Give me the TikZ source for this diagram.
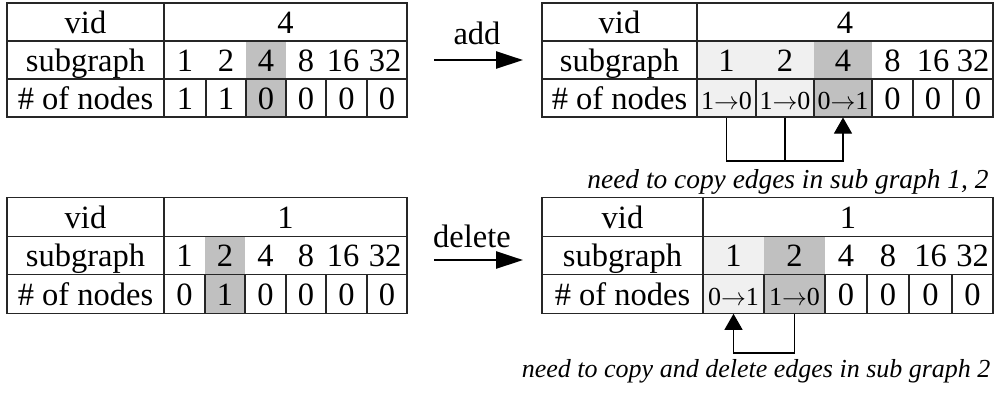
\documentclass[tikz,border=0pt]{standalone}
\usepackage{fontspec}
\setmainfont{Liberation Serif}
\usetikzlibrary{arrows.meta}

\definecolor{lightcell}{HTML}{F0F0F0}
\definecolor{darkcell}{HTML}{C0C0C0}
\newcommand{\bigtext}{\fontsize{32.5}{37}\selectfont}
\newcommand{\smalltext}{\fontsize{26}{30}\selectfont}
\newcommand{\chg}[2]{{\smalltext #1\(\rightarrow\)#2}}

\begin{document}
\begin{tikzpicture}[
    x=1pt, y=-1pt,
    >={Triangle[length=16pt, width=18pt]},
    font=\bigtext,
    line width=1.1pt,
    txt/.style={inner sep=0pt, text height=22pt, text depth=0pt},
    cell/.style={txt, draw=black!85, minimum height=38pt},
    shade/.style={txt, minimum height=38pt},
    move/.style={line width=2.7pt, -{Triangle[length=27pt, width=17pt]}},
    note/.style={font=\fontsize{27.4}{32}\selectfont\itshape, anchor=base east, inner sep=0pt}
]
    \useasboundingbox (0,0) rectangle (998,392);

    % before add (vid 4)
    \foreach \x/\w/\v/\f [count=\i] in {185/42/1/none, 226/40/2/none, 266/40/4/darkcell,
                                      306/40/8/none, 343/40/16/none, 385/40/32/none}
        \node[shade, fill=\f, minimum width=\w pt] (a-s\i) at (\x,60) {\v};
    \node[cell, minimum width=157pt] (a-vidl) at (85.5,22) {vid};
    \node[cell, minimum width=243pt] (a-vid) at (285.5,22) {4};
    \node[cell, minimum width=157pt] (a-subl) at (85.5,60) {subgraph};
    \node[cell, minimum width=243pt] (a-sub) at (285.5,60) {};
    \node[cell, minimum width=157pt] (a-numl) at (85.5,98) {\# of nodes};
    \foreach \x/\w/\v/\f [count=\i] in {185/42/1/white, 226/40/1/white, 266/40/0/darkcell,
                                      306/40/0/white, 346.5/41/0/white, 387/40/0/white}
        \node[cell, fill=\f, minimum width=\w pt] (a-n\i) at (\x,98) {\v};

    % add
    \coordinate (add-from) at (434,60);
    \coordinate (add-to) at (523,60);
    \draw[move] (add-from) -- (add-to);
    \node[txt] (add) at (477,33) {add};

    % after add
    \foreach \x/\w/\v/\f [count=\i] in {726.5/59/1/lightcell, 785/58/2/lightcell, 843/58/4/darkcell,
                                      892.5/41/8/none, 933/40/16/none, 973/40/32/none}
        \node[shade, fill=\f, minimum width=\w pt] (b-s\i) at (\x,60) {\v};
    \node[cell, minimum width=155pt] (b-vidl) at (619.5,22) {vid};
    \node[cell, minimum width=296pt] (b-vid) at (845,22) {4};
    \node[cell, minimum width=155pt] (b-subl) at (619.5,60) {subgraph};
    \node[cell, minimum width=296pt] (b-sub) at (845,60) {};
    \node[cell, minimum width=155pt] (b-numl) at (619.5,98) {\# of nodes};
    \foreach \x/\w/\v/\f [count=\i] in {726.5/59/\chg10/lightcell, 785/58/\chg10/lightcell,
                                      843/58/\chg01/darkcell, 892.5/41/0/white,
                                      933/40/0/white, 973/40/0/white}
        \node[cell, fill=\f, minimum width=\w pt] (b-n\i) at (\x,98) {\v};

    % copy edges
    \coordinate (b-join) at (785,161);
    \draw[->] (b-n1.south) |- (b-join) -| (b-n3.south);
    \draw (b-n2.south) -- (b-join);
    \node[note] (b-note) at (989,188) {need to copy edges in sub graph 1, 2};

    % before delete (vid 1)
    \foreach \x/\w/\v/\f [count=\i] in {184.5/41/1/none, 225/40/2/darkcell, 265.5/41/4/none,
                                      306/40/8/none, 343/40/16/none, 385/40/32/none}
        \node[shade, fill=\f, minimum width=\w pt, minimum height=38.5pt] (c-s\i) at (\x,255.5) {\v};
    \node[cell, minimum width=157pt, minimum height=38.5pt] (c-vidl) at (85.5,217) {vid};
    \node[cell, minimum width=243pt, minimum height=38.5pt] (c-vid) at (285.5,217) {1};
    \node[cell, minimum width=157pt, minimum height=38.5pt] (c-subl) at (85.5,255.5) {subgraph};
    \node[cell, minimum width=243pt, minimum height=38.5pt] (c-sub) at (285.5,255.5) {};
    \node[cell, minimum width=157pt, minimum height=38.5pt] (c-numl) at (85.5,294) {\# of nodes};
    \foreach \x/\w/\v/\f [count=\i] in {184.5/41/0/white, 225/40/1/darkcell, 265.5/41/0/white,
                                      306/40/0/white, 346.5/41/0/white, 387/40/0/white}
        \node[cell, fill=\f, minimum width=\w pt, minimum height=38.5pt] (c-n\i) at (\x,294) {\v};

    % delete
    \coordinate (del-from) at (434,260);
    \coordinate (del-to) at (523,260);
    \draw[move] (del-from) -- (del-to);
    \node[txt] (delete) at (472,236) {delete};

    % after delete
    \foreach \x/\w/\v/\f [count=\i] in {733.5/61/1/lightcell, 794.5/61/2/darkcell, 846/42/4/none,
                                      888/42/8/none, 930.5/43/16/none, 972.5/41/32/none}
        \node[shade, fill=\f, minimum width=\w pt, minimum height=38.5pt] (d-s\i) at (\x,255.5) {\v};
    \node[cell, minimum width=161pt, minimum height=38.5pt] (d-vidl) at (622.5,217) {vid};
    \node[cell, minimum width=290pt, minimum height=38.5pt] (d-vid) at (848,217) {1};
    \node[cell, minimum width=161pt, minimum height=38.5pt] (d-subl) at (622.5,255.5) {subgraph};
    \node[cell, minimum width=290pt, minimum height=38.5pt] (d-sub) at (848,255.5) {};
    \node[cell, minimum width=161pt, minimum height=38.5pt] (d-numl) at (622.5,294) {\# of nodes};
    \foreach \x/\w/\v/\f [count=\i] in {733.5/61/\chg01/lightcell, 794.5/61/\chg10/darkcell,
                                      846/42/0/white, 888/42/0/white,
                                      930.5/43/0/white, 972.5/41/0/white}
        \node[cell, fill=\f, minimum width=\w pt, minimum height=38.5pt] (d-n\i) at (\x,294) {\v};

    % copy and delete edges
    \coordinate (d-join) at (794.5,353);
    \draw[->] (d-n2.south) -- (d-join) -| (d-n1.south);
    \node[note, font=\fontsize{26}{30}\selectfont\itshape] (d-note) at (991,377) {need to copy and delete edges in sub graph 2};

\end{tikzpicture}
\end{document}
